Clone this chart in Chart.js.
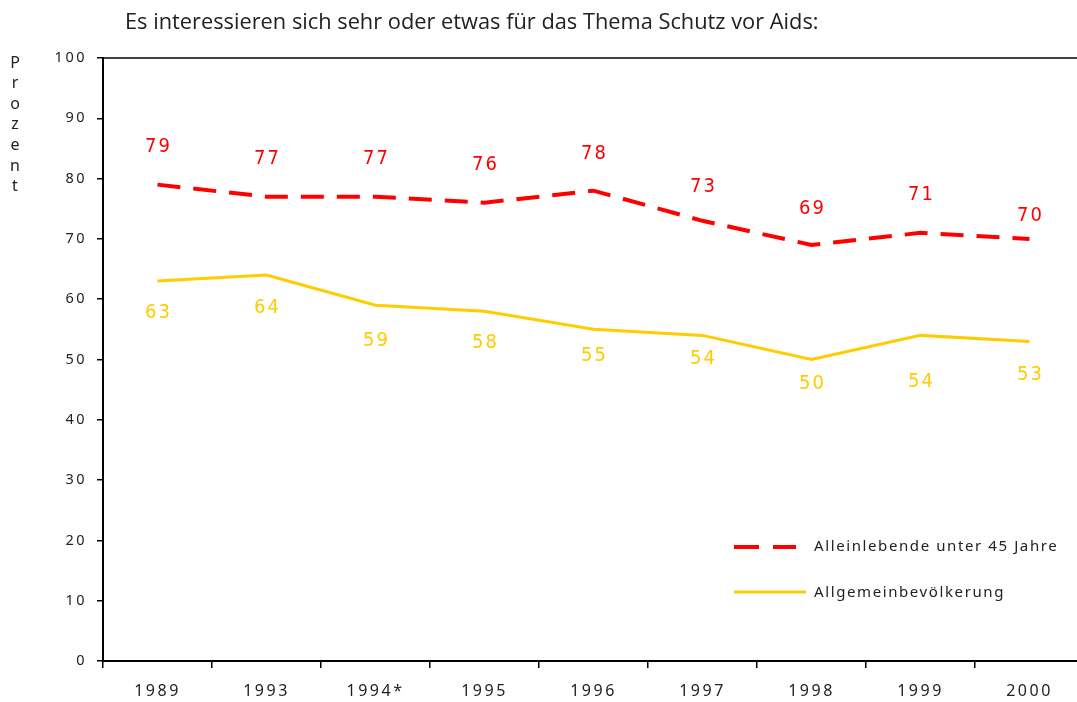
<!DOCTYPE html>
<html>
<head>
<meta charset="utf-8">
<script src="https://cdn.jsdelivr.net/npm/chart.js@4/dist/chart.umd.min.js"></script>
<style>
  html, body { margin: 0; padding: 0; overflow: hidden; background: #fff; }
  #wrap { width: 1090px; height: 702px; }
</style>
</head>
<body>
<div id="wrap"><canvas id="chart" width="1090" height="702"></canvas></div>
<script>
var years = ['1989', '1993', '1994*', '1995', '1996', '1997', '1998', '1999', '2000'];
var alleinlebende = [79, 77, 77, 76, 78, 73, 69, 71, 70];
var bevoelkerung = [63, 64, 59, 58, 55, 54, 50, 54, 53];
var titleText = 'Es interessieren sich sehr oder etwas für das Thema Schutz vor Aids:';
var axisTitle = 'Prozent';

// where the value labels sit relative to their points (px)
var redOffsets = [-38, -38, -38, -38, -37, -34, -36, -38, -23];
var yellowOffsets = [32, 33, 36, 32, 26, 23, 24, 46, 33];

var RED = '#ff0000';
var YELLOW = '#ffcc00';
var TEXT = '#222222';
var NARROW = '"Liberation Sans Narrow", "DejaVu Sans Condensed", "Noto Sans", sans-serif';

var decor = {
    id: 'decor',
    beforeDraw: function (chart) {
        chart.ctx.letterSpacing = '2.5px';
    },
    afterDraw: function (chart) {
        var ctx = chart.ctx;
        var area = chart.chartArea;
        ctx.save();

        // frame top + right
        ctx.strokeStyle = '#000';
        ctx.lineWidth = 1.5;
        ctx.beginPath();
        ctx.moveTo(area.left, area.top);
        ctx.lineTo(area.right, area.top);
        ctx.lineTo(area.right, area.bottom);
        ctx.stroke();

        // title
        ctx.letterSpacing = '0px';
        ctx.fillStyle = TEXT;
        ctx.font = '21.8px "Open Sans"';
        ctx.textAlign = 'left';
        ctx.textBaseline = 'alphabetic';
        ctx.fillText(titleText, 125, 29);

        // vertical axis title, letters stacked
        ctx.font = '16px "Noto Sans"';
        ctx.textAlign = 'center';
        ctx.textBaseline = 'middle';
        for (var i = 0; i < axisTitle.length; i++) {
            ctx.fillText(axisTitle[i], 15, 63 + i * 20.6);
        }

        // value labels
        ctx.letterSpacing = '2.2px';
        ctx.font = '20px ' + NARROW;
        var metaRed = chart.getDatasetMeta(0);
        var metaYellow = chart.getDatasetMeta(1);
        metaRed.data.forEach(function (pt, i) {
            ctx.fillStyle = RED;
            ctx.fillText(String(alleinlebende[i]), pt.x + 1.1, pt.y + redOffsets[i]);
        });
        metaYellow.data.forEach(function (pt, i) {
            ctx.fillStyle = YELLOW;
            ctx.fillText(String(bevoelkerung[i]), pt.x + 1.1, pt.y + yellowOffsets[i]);
        });

        // legend
        ctx.lineCap = 'butt';
        ctx.strokeStyle = RED;
        ctx.lineWidth = 4;
        ctx.setLineDash([25, 14]);
        ctx.beginPath();
        ctx.moveTo(734, 547);
        ctx.lineTo(796, 547);
        ctx.stroke();
        ctx.setLineDash([]);
        ctx.strokeStyle = YELLOW;
        ctx.lineWidth = 3;
        ctx.beginPath();
        ctx.moveTo(734, 592);
        ctx.lineTo(806, 592);
        ctx.stroke();

        ctx.letterSpacing = '1.6px';
        ctx.fillStyle = TEXT;
        ctx.font = '15px "Noto Sans"';
        ctx.textAlign = 'left';
        ctx.fillText(chart.data.datasets[0].label, 814, 547);
        ctx.fillText(chart.data.datasets[1].label, 814, 593);

        ctx.restore();
    }
};

var ctx = document.getElementById('chart').getContext('2d');
var chart = new Chart(ctx, {
    type: 'line',
    data: {
        labels: years,
        datasets: [{
            label: 'Alleinlebende unter 45 Jahre',
            data: alleinlebende,
            borderColor: RED,
            borderWidth: 4,
            borderDash: [23, 13],
            pointRadius: 0,
            tension: 0,
            fill: false
        }, {
            label: 'Allgemeinbevölkerung',
            data: bevoelkerung,
            borderColor: YELLOW,
            borderWidth: 3,
            pointRadius: 0,
            tension: 0,
            fill: false
        }]
    },
    options: {
        responsive: false,
        animation: false,
        devicePixelRatio: 1,
        layout: { padding: { left: 0, top: 58, right: 6, bottom: 0 } },
        plugins: {
            legend: { display: false },
            title: { display: false },
            tooltip: { enabled: false }
        },
        scales: {
            x: {
                type: 'category',
                offset: true,
                grid: { offset: true, drawOnChartArea: false, tickLength: 7, color: '#000', lineWidth: 1.5 },
                border: { color: '#000', width: 2 },
                ticks: { padding: 14, color: TEXT, font: { family: 'Noto Sans', size: 16 }, maxRotation: 0 },
                afterFit: function (scale) { scale.height = 41; }
            },
            y: {
                min: 0,
                max: 100,
                ticks: { stepSize: 10, padding: 10, color: TEXT, font: { family: 'Noto Sans', size: 14.5 } },
                grid: { drawOnChartArea: false, tickLength: 6, color: '#000', lineWidth: 1.5 },
                border: { color: '#000', width: 2 },
                afterFit: function (scale) { scale.width = 103; }
            }
        }
    },
    plugins: [decor]
});
</script>
</body>
</html>
